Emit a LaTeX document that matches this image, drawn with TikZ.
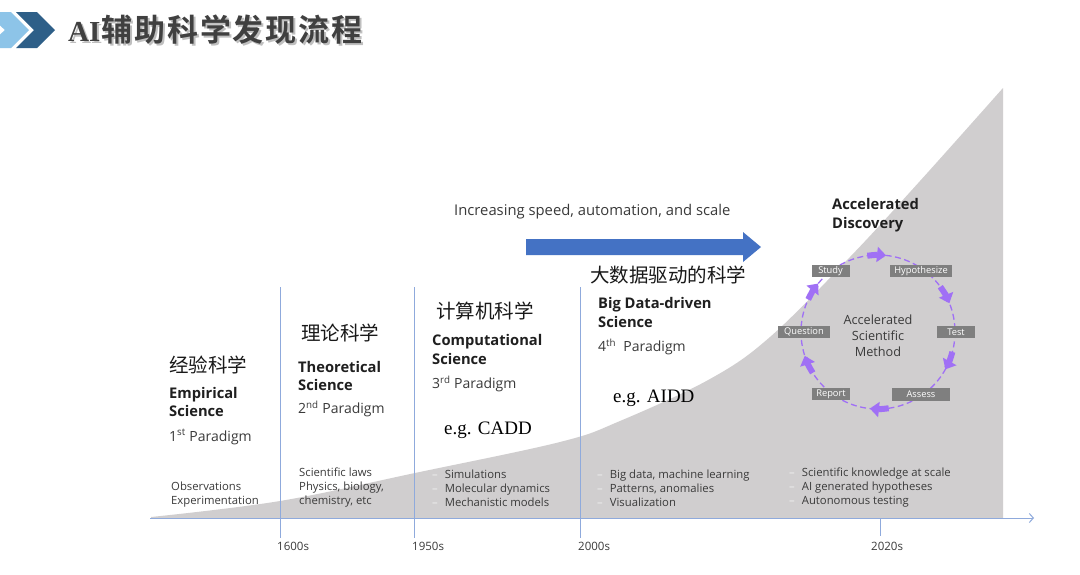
\documentclass[tikz,border=0pt]{standalone}
\usepackage{fontspec}
\setmainfont{Open Sans}
\newfontfamily\cjk{Noto Sans CJK SC}
\newfontfamily\cjkbold{Noto Sans CJK SC Bold}[LetterSpace=6]
\newfontfamily\serif{Liberation Serif}
\usetikzlibrary{arrows.meta}
\definecolor{curvegray}{HTML}{D0CECF}
\definecolor{axisblue}{HTML}{8FAADC}
\definecolor{arrowblue}{HTML}{4472C4}
\definecolor{cyclepurple}{HTML}{A070F5}
\definecolor{stagegray}{HTML}{7F7F7F}
\definecolor{chevlight}{HTML}{8DC4E8}
\definecolor{chevdark}{HTML}{2E5F88}
\definecolor{inkgray}{HTML}{3A3A3A}
\newcommand{\itemdash}{\textcolor{white!88!gray}{--}\hspace{7pt}}
\newcommand{\titlestring}{{\serif\bfseries\fontsize{29}{32}\selectfont AI}\hspace{1pt}{\cjkbold 辅助科学发现流程}}

\begin{document}
\begin{tikzpicture}[x=1pt,y=-1pt,inner sep=0pt,
    cnhead/.style={anchor=west,font=\cjk\fontsize{19.5}{22}\selectfont,text=black!90},
    enhead/.style={anchor=west,align=left,font=\bfseries\fontsize{14.7}{18.5}\selectfont,text=black!88},
    paradigm/.style={anchor=west,font=\fontsize{14}{16}\selectfont,text=inkgray},
    notes/.style={anchor=west,align=left,font=\fontsize{11.3}{14}\selectfont,text=inkgray},
    example/.style={anchor=west,font=\serif\fontsize{19}{20}\selectfont,text=black},
    year/.style={anchor=west,font=\fontsize{11.5}{13}\selectfont,text=inkgray},
    stage/.style={fill=stagegray,text=white,font=\fontsize{9.3}{10}\selectfont,minimum height=12.5pt},
    timeline/.style={axisblue,line width=1pt},
    cycleline/.style={cyclepurple,line width=1.3pt,dash pattern=on 6pt off 3.5pt},
    cyclearrow/.style={cyclepurple,line width=6pt,-{Triangle[length=9pt,width=15pt]}},
    titletext/.style={anchor=west,font=\fontsize{31}{34}\selectfont}]
  \useasboundingbox[fill=white] (0,0) rectangle (1080,574);

  % title bar
  \fill[chevlight] (-15,12) -- (11,12) -- (29,30) -- (11,48) -- (-15,48) -- (5,30) -- cycle;
  \fill[chevdark] (16,12) -- (37,12) -- (55,30) -- (37,48) -- (16,48) -- (34,30) -- cycle;
  \node[titletext,text=black!25] at (70,32) {\titlestring};
  \node[titletext,text=black!75] (title) at (68,30) {\titlestring};

  % growth curve
  \fill[curvegray] (151,518) -- plot[smooth,tension=0.6] coordinates {(151,517) (280,501) (415,473) (560,442) (620,421) (710,379) (770,337) (850,257) (920,181) (1003,88)}
    -- (1003,518) -- cycle;

  % timeline
  \coordinate (axstart) at (150,518);
  \coordinate (axend) at (1034,518);
  \draw[timeline,-{Straight Barb[length=4pt,width=9pt]}] (axstart) -- (axend);
  \foreach \x in {280,414,580}
    \draw[timeline] (\x,287) -- (\x,538);
  \draw[timeline] (880,518) -- (880,536);
  \node[year] (y1600) at (277,546) {1600s};
  \node[year] (y1950) at (412,546) {1950s};
  \node[year] (y2000) at (578,546) {2000s};
  \node[year] (y2020) at (871,546) {2020s};

  % speed arrow
  \node[anchor=west,font=\fontsize{14.8}{16}\selectfont,text=inkgray] (speed) at (454,212) {Increasing speed, automation, and scale};
  \fill[arrowblue] (526,239) -- (743,239) -- (743,232) -- (761,247) -- (743,262) -- (743,255) -- (526,255) -- cycle;

  % empirical
  \node[cnhead] (cn1) at (169,365) {经验科学};
  \node[enhead] (en1) at (169,402) {Empirical\\Science};
  \node[paradigm] (pd1) at (169,437) {1\textsuperscript{st} Paradigm};
  \node[notes] (nt1) at (171,495) {Observations\\Experimentation};

  % theoretical
  \node[cnhead] (cn2) at (301,333) {理论科学};
  \node[enhead] (en2) at (298,376) {Theoretical\\Science};
  \node[paradigm] (pd2) at (298,409) {2\textsuperscript{nd} Paradigm};
  \node[notes] (nt2) at (299,488) {Scientific laws\\Physics, biology,\\chemistry, etc};

  % computational
  \node[cnhead] (cn3) at (436,311) {计算机科学};
  \node[enhead] (en3) at (432,349.5) {Computational\\Science};
  \node[paradigm] (pd3) at (432,384) {3\textsuperscript{rd} Paradigm};
  \node[example] (eg3) at (444,430) {e.g. CADD};
  \node[notes] (nt3) at (432,488) {\itemdash Simulations\\\itemdash Molecular dynamics\\\itemdash Mechanistic models};

  % big data
  \node[cnhead] (cn4) at (590,275) {大数据驱动的科学};
  \node[enhead] (en4) at (598,312.5) {Big Data-driven\\Science};
  \node[paradigm] (pd4) at (598,347) {4\textsuperscript{th}\ \ Paradigm};
  \node[example] (eg4) at (613,398) {e.g. AIDD};
  \node[notes] (nt4) at (597,488) {\itemdash Big data, machine learning\\\itemdash Patterns, anomalies\\\itemdash Visualization};

  % accelerated discovery
  \node[enhead] (en5) at (832,215) {Accelerated\\Discovery};
  \node[notes] (nt5) at (789,488) {\itemdash Scientific knowledge at scale\\\itemdash AI generated hypotheses\\\itemdash Autonomous testing};

  % scientific method cycle
  \coordinate (cyc) at (878,332);
  \draw[cycleline] (cyc) circle[radius=77];
  \foreach \a in {-90,-28,23,90,156,213}
    \draw[cyclearrow] ([shift={(\a-8:77)}]cyc) arc[start angle=\a-8,end angle=\a+6,radius=77];
  \node[stage,minimum width=38pt] (study) at (830.5,271) {Study};
  \node[stage,minimum width=62pt] (hypo) at (921,271) {Hypothesize};
  \node[stage,minimum width=38pt] (test) at (956,332) {Test};
  \node[stage,minimum width=58pt] (assess) at (921,394.5) {Assess};
  \node[stage,minimum width=38pt] (report) at (831,394) {Report};
  \node[stage,minimum width=52pt] (question) at (804,332) {Question};
  \node[align=center,font=\fontsize{12.7}{15.8}\selectfont,text=inkgray] (method) at (878,336) {Accelerated\\Scientific\\Method};
\end{tikzpicture}
\end{document}
